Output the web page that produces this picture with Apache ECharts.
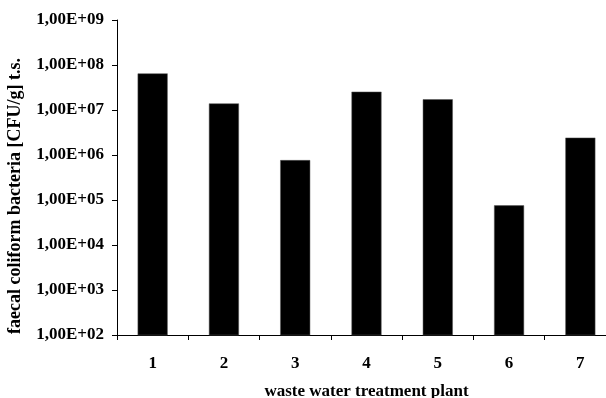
<!DOCTYPE html>
<html>
<head>
<meta charset="utf-8">
<script src="https://cdn.jsdelivr.net/npm/echarts@6/dist/echarts.min.js"></script>
<style>html,body{margin:0;padding:0;background:#fff}#c{width:606px;height:398px}</style>
</head>
<body>
<div id="c"></div>
<script>
const categories = ['1', '2', '3', '4', '5', '6', '7'];
const values = [6.5e7, 1.4e7, 7.7e5, 2.55e7, 1.73e7, 7.6e4, 2.43e6];
const xTitle = 'waste water treatment plant';
const yTitle = 'faecal coliform bacteria [CFU/g] t.s.';

const font = 'Liberation Serif';
const chart = echarts.init(document.getElementById('c'));
chart.setOption({
  animation: false,
  backgroundColor: '#fff',
  grid: { left: 117, top: 20, width: 499, height: 315, containLabel: false, outerBoundsMode: 'none' },
  xAxis: {
    type: 'category',
    data: categories,
    name: xTitle,
    nameLocation: 'middle',
    nameGap: 48,
    nameTextStyle: { fontFamily: font, fontWeight: 'bold', fontSize: 17, color: '#000' },
    axisLine: { lineStyle: { color: '#000', width: 1 } },
    axisTick: { show: true, length: 5, lineStyle: { color: '#000', width: 1 } },
    axisLabel: { fontFamily: font, fontWeight: 'bold', fontSize: 17, color: '#000', margin: 20 }
  },
  yAxis: {
    type: 'log',
    logBase: 10,
    min: 100,
    max: 1e9,
    axisLine: { show: true, lineStyle: { color: '#000', width: 1 } },
    axisTick: { show: true, length: 5, lineStyle: { color: '#000', width: 1 } },
    splitLine: { show: false },
    minorTick: { show: false },
    axisLabel: {
      fontFamily: font, fontWeight: 'bold', fontSize: 17, color: '#000', margin: 13,
      formatter: function (v) {
        const e = Math.round(Math.log10(v));
        return '1,00E+' + (e < 10 ? '0' : '') + e;
      }
    }
  },
  graphic: [{
    type: 'text',
    x: 15, y: 196,
    rotation: Math.PI / 2,
    style: {
      text: yTitle, fontFamily: font, fontWeight: 'bold', fontSize: 18, fill: '#000',
      align: 'center', verticalAlign: 'middle'
    }
  }],
  series: [{
    type: 'bar',
    data: values,
    barWidth: 30,
    itemStyle: { color: '#000', borderColor: '#555', borderWidth: 0.5 }
  }]
});
</script>
</body>
</html>
